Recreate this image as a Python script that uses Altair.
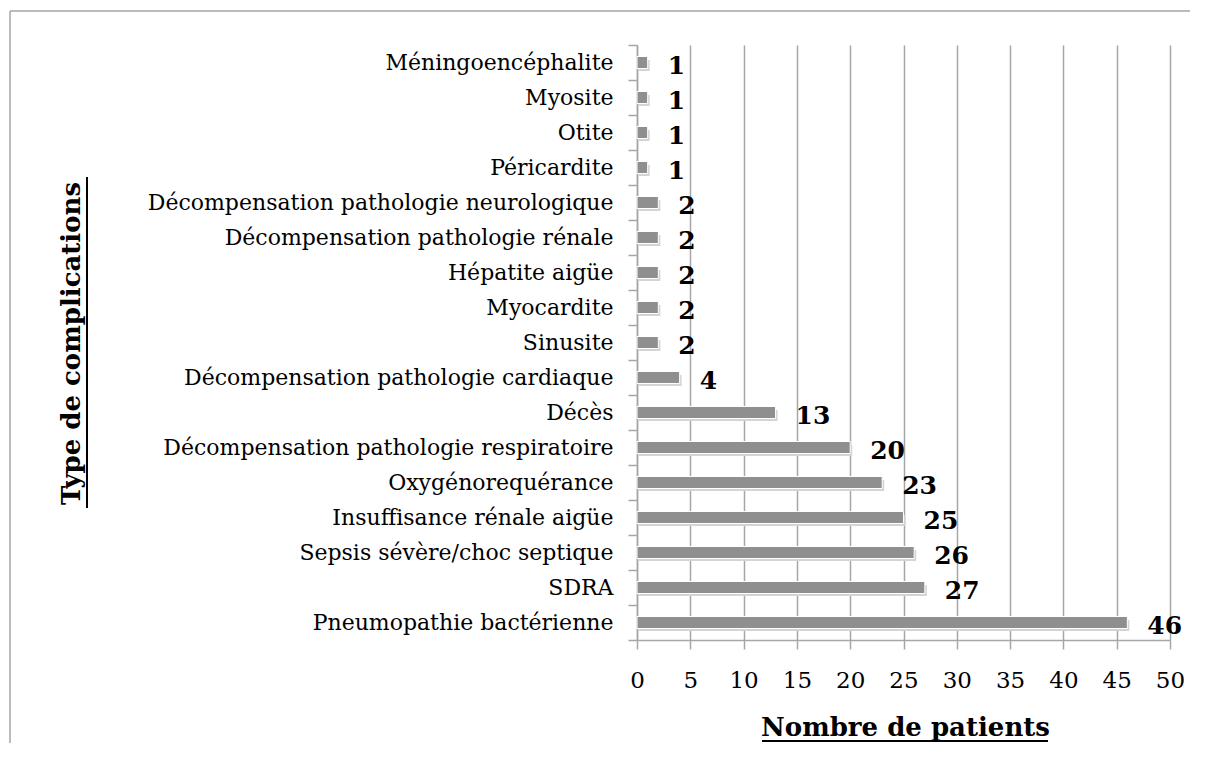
import altair as alt
import pandas as pd

categories = [
    "Méningoencéphalite", "Myosite", "Otite", "Péricardite",
    "Décompensation pathologie neurologique", "Décompensation pathologie rénale",
    "Hépatite aigüe", "Myocardite", "Sinusite",
    "Décompensation pathologie cardiaque", "Décès",
    "Décompensation pathologie respiratoire", "Oxygénorequérance",
    "Insuffisance rénale aigüe", "Sepsis sévère/choc septique", "SDRA",
    "Pneumopathie bactérienne",
]
values = [1, 1, 1, 1, 2, 2, 2, 2, 2, 4, 13, 20, 23, 25, 26, 27, 46]
x_ticks = list(range(0, 51, 5))

df = pd.DataFrame({"cat": categories, "val": values})

W, H = 533, 595
PAD = {"left": 629, "top": 37, "right": 20, "bottom": 103}
GRID = "#a6a6a6"
SERIF = "DejaVu Serif"

xenc = alt.X(
    "val:Q",
    scale=alt.Scale(domain=[0, 50], nice=False),
    axis=alt.Axis(
        values=x_ticks, title="Nombre de patients", grid=True, gridColor=GRID,
        gridWidth=1.5, domainColor=GRID, domainWidth=1.5, tickColor=GRID,
        tickWidth=1.5, tickSize=9, labelFont=SERIF, labelFontSize=23,
        labelColor="black", labelPadding=20, labelFlush=False,
        labelOverlap=False, titleFont=SERIF,
        titleFontSize=26, titleFontWeight="bold", titleColor="black",
        titleX=268, titleY=87, titleBaseline="middle", titleAlign="center",
    ),
)
yenc = alt.Y(
    "cat:N",
    sort=categories,
    scale=alt.Scale(paddingInner=0, paddingOuter=0),
    axis=alt.Axis(
        title="Type de complications", domainColor=GRID, domainWidth=1.5,
        tickColor=GRID, tickWidth=1.5, tickSize=9, bandPosition=1,
        tickExtra=True, labelFont=SERIF, labelFontSize=22, labelColor="black",
        labelPadding=15, labelLimit=600, titleFont=SERIF, titleFontSize=26,
        titleFontWeight="bold", titleColor="black", titleX=-566, titleY=298,
        titleAngle=270, titleBaseline="middle", titleAlign="center",
    ),
)

base = alt.Chart(df)

shadow = base.mark_bar(size=11, color="#d4d4d4", xOffset=2, yOffset=3).encode(
    x=xenc, y=yenc
)
bars = base.mark_bar(size=12, color="#8f8f8f", stroke="white", strokeWidth=1).encode(
    x=xenc, y=yenc
)
labels = base.mark_text(
    align="left", baseline="middle", dx=20, dy=3, font=SERIF,
    fontWeight="bold", fontSize=25, color="black",
).encode(x=xenc, y=yenc, text="val:Q")

one = pd.DataFrame({"k": [0]})
frame_top = alt.Chart(one).mark_rule(color="#a6a6a6", strokeWidth=1.5).encode(
    x=alt.value(-627), x2=alt.value(W + PAD["right"]), y=alt.value(-34)
)
frame_left = alt.Chart(one).mark_rule(color="#a6a6a6", strokeWidth=1.5).encode(
    x=alt.value(-627), y=alt.value(-34), y2=alt.value(H + PAD["bottom"])
)
ul_x = alt.Chart(one).mark_rule(color="black", strokeWidth=2).encode(
    x=alt.value(125), x2=alt.value(411), y=alt.value(696)
)
ul_y = alt.Chart(one).mark_rule(color="black", strokeWidth=2).encode(
    x=alt.value(-550), y=alt.value(132), y2=alt.value(463)
)

chart = alt.layer(frame_top, frame_left, shadow, bars, labels, ul_x, ul_y).properties(
    width=W, height=H,
    autosize=alt.AutoSizeParams(type="none"),
    padding=PAD,
    background="white",
).configure_view(stroke=None)

chart.save("out.html", embed_options={"renderer": "svg", "actions": False})
